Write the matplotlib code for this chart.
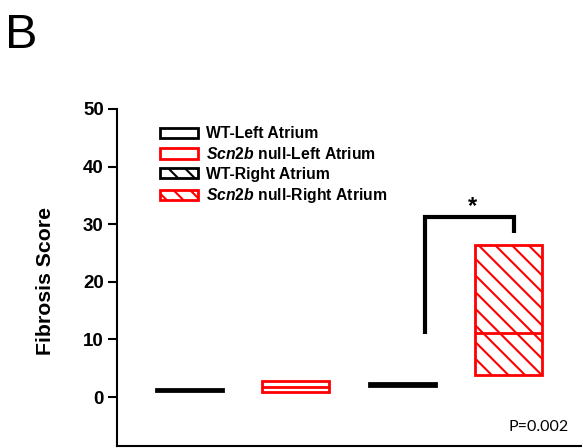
import matplotlib
matplotlib.use("Agg")
import matplotlib.pyplot as plt
from matplotlib.patches import Rectangle

plt.rcParams['font.family'] = ['Liberation Sans', 'DejaVu Sans']
plt.rcParams['mathtext.fontset'] = 'custom'
plt.rcParams['mathtext.it'] = 'Liberation Sans:italic:bold'
plt.rcParams['mathtext.rm'] = 'Liberation Sans:bold'
plt.rcParams['hatch.linewidth'] = 1.5

# Data
groups = ["WT-Left Atrium", r"$\mathit{Scn2b}$ null-Left Atrium",
          "WT-Right Atrium", r"$\mathit{Scn2b}$ null-Right Atrium"]
positions = [1, 2, 3, 4]
q1 = [1.0, 0.9, 1.9, 3.8]
median = [1.2, 1.8, 2.2, 11.1]
q3 = [1.4, 2.8, 2.4, 26.4]
colors = ['black', 'red', 'black', 'red']
hatches = ['', '', '\\\\', '\\\\']
yticks = [0, 10, 20, 30, 40, 50]
bracket_x = [3.215, 3.215, 4.05, 4.05]
bracket_y = [11.0, 31.3, 31.3, 28.5]
p_text = "P=0.002"

fig = plt.figure(figsize=(5.82, 4.48), dpi=100)
ax = fig.add_axes([117/582, 2/448, 1 - 117/582, (446-109)/448])

width = 0.63
for x, lo, md, hi, c, h in zip(positions, q1, median, q3, colors, hatches):
    ax.bar(x, hi - lo, bottom=lo, width=width, facecolor='white',
           edgecolor=c, linewidth=2, hatch=h if c == 'red' and h else '', zorder=2)
    ax.hlines(md, x - width/2, x + width/2, colors=c, linewidth=2, zorder=3)

ax.plot(bracket_x, bracket_y, color='black', linewidth=3, solid_capstyle='butt',
        solid_joinstyle='miter')
ax.text(3.665, 33.0, "*", ha='center', va='center', fontsize=17, fontweight='bold')
ax.text(4.28, -5.2, p_text, ha='center', va='center', fontsize=11.5,
        family=['Lato', 'DejaVu Sans'])

ax.set_xlim(0.318, 4.69)
ax.set_ylim(-8.5, 50)
ax.set_yticks(yticks)
ax.set_yticklabels([str(t) for t in yticks], fontsize=13.5, fontweight='bold')
ax.set_xticks([])
ax.tick_params(axis='y', direction='out', length=6.5, width=1.5, pad=3)
for s in ['top', 'right']:
    ax.spines[s].set_visible(False)
ax.spines['left'].set_linewidth(1.5)
ax.spines['bottom'].set_linewidth(1.5)
ax.set_ylabel("Fibrosis Score", fontsize=15.3, fontweight='bold')
ax.yaxis.set_label_coords(-0.133, 0.49)

handles = [Rectangle((0, 0), 1, 1, facecolor='white', edgecolor=c, linewidth=2, hatch=h)
           for c, h in zip(colors, hatches)]
leg = ax.legend(handles, groups, loc='upper left', bbox_to_anchor=(160/582, 0.718),
                bbox_transform=fig.transFigure, frameon=False, borderpad=0,
                borderaxespad=0, handlelength=2.4, handleheight=0.65,
                handletextpad=0.55, labelspacing=0.3,
                prop={'weight': 'bold', 'size': 11.3})

fig.text(5/582, (448-48)/448, "B", fontsize=35, ha='left', va='baseline')

fig.savefig("out.png", dpi=100)
